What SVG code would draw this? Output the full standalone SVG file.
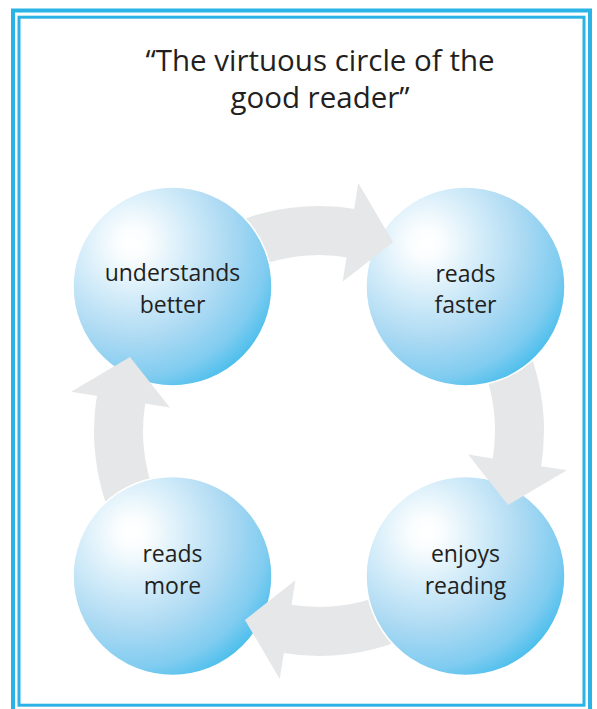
<svg xmlns="http://www.w3.org/2000/svg" xmlns:xlink="http://www.w3.org/1999/xlink" width="597" height="709" viewBox="0 0 597 709">
  <style>
    .frame { fill: none; stroke: #2bb3e6; }
    .arrow { fill: #e6e7e8; }
    .node { fill: url(#ball); stroke: #ffffff; stroke-width: 1.5; }
    .title { font-family: "Open Sans", "Noto Sans", sans-serif; font-size: 29.5px; fill: #231f20; text-anchor: middle; }
    .label { font-family: "Open Sans", "Noto Sans", sans-serif; font-size: 23px; fill: #231f20; text-anchor: middle; }
  </style>
  <defs>
    <radialGradient id="ball" cx="0.3" cy="0.28" r="0.8" fx="0.3" fy="0.28">
      <stop offset="0" stop-color="#ffffff"/>
      <stop offset="0.1" stop-color="#fafdfe"/>
      <stop offset="0.35" stop-color="#d3ecf9"/>
      <stop offset="0.6" stop-color="#addaf3"/>
      <stop offset="0.85" stop-color="#80ccf0"/>
      <stop offset="1" stop-color="#4abeec"/>
    </radialGradient>
    <path id="body" d="M -159.1 -159.1 A 225 225 0 0 1 39.07 -221.58 L 30.56 -173.32 A 176 176 0 0 0 -124.45 -124.45 Z"/>
    <path id="head" d="M 39.26 -247.91 L 74.07 -189.01 L 23.62 -149.14 Z"/>
  </defs>

  <rect width="597" height="709" fill="#ffffff"/>

  <g id="frame">
    <rect class="frame" x="13" y="10.5" width="577" height="705" stroke-width="4"/>
    <rect class="frame" x="19" y="17.2" width="565" height="688" stroke-width="3"/>
  </g>

  <g id="title">
    <text class="title" x="320" y="71">“The virtuous circle of the</text>
    <text class="title" x="320" y="108">good reader”</text>
  </g>

  <g id="connectors">
    <use xlink:href="#body" class="arrow" transform="translate(319 431)"/>
    <use xlink:href="#body" class="arrow" transform="translate(319 431) rotate(90)"/>
    <use xlink:href="#body" class="arrow" transform="translate(319 431) rotate(180)"/>
    <use xlink:href="#body" class="arrow" transform="translate(319 431) rotate(270)"/>
  </g>

  <g id="node-understands-better">
    <circle class="node" cx="172.5" cy="286.5" r="99.5"/>
    <text class="label" x="172.5" y="281">understands</text>
    <text class="label" x="172.5" y="312.5">better</text>
  </g>
  <g id="node-reads-faster">
    <circle class="node" cx="465.5" cy="286.5" r="99.5"/>
    <text class="label" x="465.5" y="281.5">reads</text>
    <text class="label" x="465.5" y="313">faster</text>
  </g>
  <g id="node-enjoys-reading">
    <circle class="node" cx="465.5" cy="576" r="99.5"/>
    <text class="label" x="465.5" y="561.5">enjoys</text>
    <text class="label" x="465.5" y="593.5">reading</text>
  </g>
  <g id="node-reads-more">
    <circle class="node" cx="172.5" cy="576" r="99.5"/>
    <text class="label" x="172.5" y="561.5">reads</text>
    <text class="label" x="172.5" y="593.5">more</text>
  </g>

  <g id="connector-heads">
    <use xlink:href="#head" class="arrow" transform="translate(319 431)"/>
    <use xlink:href="#head" class="arrow" transform="translate(319 431) rotate(90)"/>
    <use xlink:href="#head" class="arrow" transform="translate(319 431) rotate(180)"/>
    <use xlink:href="#head" class="arrow" transform="translate(319 431) rotate(270)"/>
  </g>
</svg>
